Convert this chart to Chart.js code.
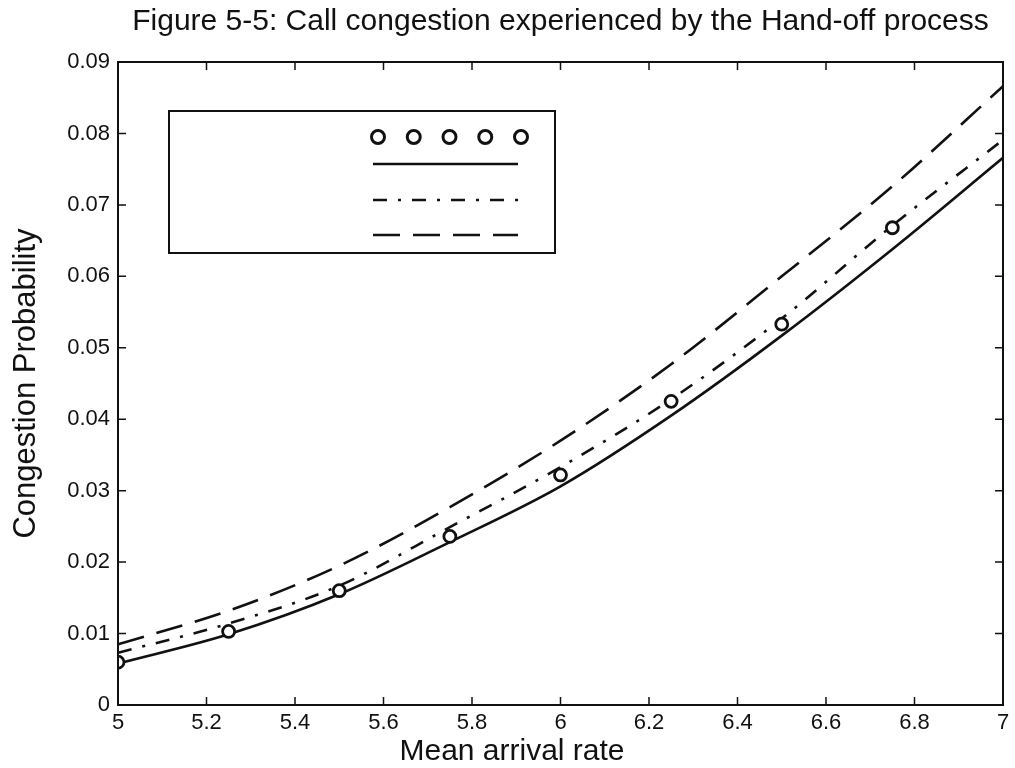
<!DOCTYPE html>
<html>
<head>
<meta charset="utf-8">
<title>Call congestion - Hand-off process</title>
<script src="https://cdn.jsdelivr.net/npm/chart.js@4.4.0/dist/chart.umd.min.js"></script>
<style>
  html, body { margin: 0; padding: 0; background: #fff; }
  #wrap { width: 1015px; height: 768px; }
</style>
</head>
<body>
<div id="wrap"><canvas id="congestion"></canvas></div>
<script>
// arrival rates for the computed curves
const arrivalRate = [5, 5.25, 5.5, 5.75, 6, 6.25, 6.5, 6.75, 7];
const solidCurve = [0.0058, 0.0099, 0.0155, 0.0228, 0.0306, 0.0405, 0.0517, 0.0638, 0.0766];
const dashDotCurve = [0.0073, 0.0114, 0.0167, 0.0249, 0.0333, 0.0428, 0.0541, 0.0671, 0.0791];
const dashedCurve = [0.0085, 0.0132, 0.0195, 0.0277, 0.0370, 0.0477, 0.0600, 0.0726, 0.0866];

// simulation points
const simRate = [5, 5.25, 5.5, 5.75, 6, 6.25, 6.5, 6.75];
const simValues = [0.0060, 0.0103, 0.0160, 0.0236, 0.0322, 0.0425, 0.0533, 0.0668];

const xTickLabels = ['5', '5.2', '5.4', '5.6', '5.8', '6', '6.2', '6.4', '6.6', '6.8', '7'];
const yTickLabels = ['0', '0.01', '0.02', '0.03', '0.04', '0.05', '0.06', '0.07', '0.08', '0.09'];

const INK = '#111';
const FONT = '"Liberation Sans", Arial, Helvetica, sans-serif';

function pairs(xs, ys) {
  return xs.map((x, i) => ({ x: x, y: ys[i] }));
}

// box around the plot with inward ticks on every side
const frameTicks = {
  id: 'frameTicks',
  afterDraw(chart) {
    const { ctx, chartArea: a, scales: { x, y } } = chart;
    const len = 8;
    ctx.save();
    ctx.strokeStyle = INK;
    ctx.lineWidth = 2;
    ctx.strokeRect(a.left, a.top, a.right - a.left, a.bottom - a.top);
    ctx.lineWidth = 1.5;
    ctx.beginPath();
    x.ticks.forEach(t => {
      const px = x.getPixelForValue(t.value);
      ctx.moveTo(px, a.bottom); ctx.lineTo(px, a.bottom - len);
      ctx.moveTo(px, a.top); ctx.lineTo(px, a.top + len);
    });
    y.ticks.forEach(t => {
      const py = y.getPixelForValue(t.value);
      ctx.moveTo(a.left, py); ctx.lineTo(a.left + len, py);
      ctx.moveTo(a.right, py); ctx.lineTo(a.right - len, py);
    });
    ctx.stroke();
    ctx.restore();
  }
};

// x axis caption, sits a bit left of the plot centre
const xCaption = {
  id: 'xCaption',
  afterDraw(chart, args, opts) {
    const ctx = chart.ctx;
    ctx.save();
    ctx.fillStyle = INK;
    ctx.font = opts.size + 'px ' + FONT;
    ctx.textAlign = 'center';
    ctx.textBaseline = 'middle';
    ctx.fillText(opts.text, opts.x, opts.y);
    ctx.restore();
  }
};

// key box with line samples only, no labels
const boxedKey = {
  id: 'boxedKey',
  afterDraw(chart, args, o) {
    const ctx = chart.ctx;
    ctx.save();
    ctx.fillStyle = '#fff';
    ctx.fillRect(o.left, o.top, o.width, o.height);
    ctx.strokeStyle = INK;
    ctx.lineWidth = 2;
    ctx.strokeRect(o.left, o.top, o.width, o.height);
    chart.data.datasets.forEach((ds, i) => {
      const ry = o.top + o.rows[i];
      ctx.strokeStyle = ds.borderColor;
      if (ds.showLine === false) {
        ctx.lineWidth = 3;
        ctx.setLineDash([]);
        for (let k = 0; k < 5; k++) {
          const cx = o.sampleX + 5 + k * (o.sampleW - 2) / 4;
          ctx.beginPath();
          ctx.arc(cx, ry, 6.5, 0, Math.PI * 2);
          ctx.stroke();
        }
      } else {
        ctx.lineWidth = ds.borderWidth;
        ctx.setLineDash(ds.borderDash || []);
        ctx.beginPath();
        ctx.moveTo(o.sampleX, ry);
        ctx.lineTo(o.sampleX + o.sampleW, ry);
        ctx.stroke();
      }
    });
    ctx.restore();
  }
};

const ctx = document.getElementById('congestion').getContext('2d');

new Chart(ctx, {
  type: 'line',
  data: {
    datasets: [{
      label: 'simulation',
      data: pairs(simRate, simValues),
      showLine: false,
      borderColor: INK,
      backgroundColor: '#fff',
      pointRadius: 6,
      pointBorderWidth: 2.8,
      pointStyle: 'circle'
    }, {
      label: 'model A',
      data: pairs(arrivalRate, solidCurve),
      borderColor: INK,
      borderWidth: 2.6,
      pointRadius: 0,
      cubicInterpolationMode: 'monotone'
    }, {
      label: 'model B',
      data: pairs(arrivalRate, dashDotCurve),
      borderColor: INK,
      borderWidth: 2.6,
      borderDash: [14, 11, 3, 11],
      pointRadius: 0,
      cubicInterpolationMode: 'monotone'
    }, {
      label: 'model C',
      data: pairs(arrivalRate, dashedCurve),
      borderColor: INK,
      borderWidth: 2.6,
      borderDash: [27, 13],
      pointRadius: 0,
      cubicInterpolationMode: 'monotone'
    }]
  },
  options: {
    responsive: true,
    maintainAspectRatio: false,
    animation: false,
    layout: { padding: { left: 0, right: 12, top: 0, bottom: 0 } },
    scales: {
      x: {
        type: 'linear',
        min: 5,
        max: 7,
        grid: { display: false, drawTicks: false },
        border: { display: false },
        ticks: {
          stepSize: 0.2,
          maxRotation: 0,
          autoSkip: false,
          padding: 5,
          color: INK,
          font: { family: FONT, size: 22 },
          callback: (v, i) => xTickLabels[i]
        },
        afterFit(scale) { scale.height = 63; }
      },
      y: {
        min: 0,
        max: 0.09,
        grid: { display: false, drawTicks: false },
        border: { display: false },
        ticks: {
          stepSize: 0.01,
          autoSkip: false,
          padding: 8,
          color: INK,
          font: { family: FONT, size: 22 },
          callback: (v, i) => yTickLabels[i]
        },
        title: {
          display: true,
          text: 'Congestion Probability',
          color: INK,
          font: { family: FONT, size: 31 },
          padding: { top: 8, bottom: 0 }
        },
        afterFit(scale) { scale.width = 118; }
      }
    },
    plugins: {
      legend: { display: false },
      tooltip: { enabled: false },
      title: {
        display: true,
        fullSize: false,
        text: 'Figure 5-5: Call congestion experienced by the Hand-off process',
        color: INK,
        font: { family: FONT, size: 30, weight: 'normal' },
        padding: { top: 4, bottom: 22 }
      },
      xCaption: { text: 'Mean arrival rate', size: 30, x: 512, y: 752 },
      boxedKey: {
        left: 169, top: 111, width: 386, height: 142,
        rows: [26, 53, 89, 124],
        sampleX: 373, sampleW: 145
      }
    }
  },
  plugins: [frameTicks, xCaption, boxedKey]
});
</script>
</body>
</html>
